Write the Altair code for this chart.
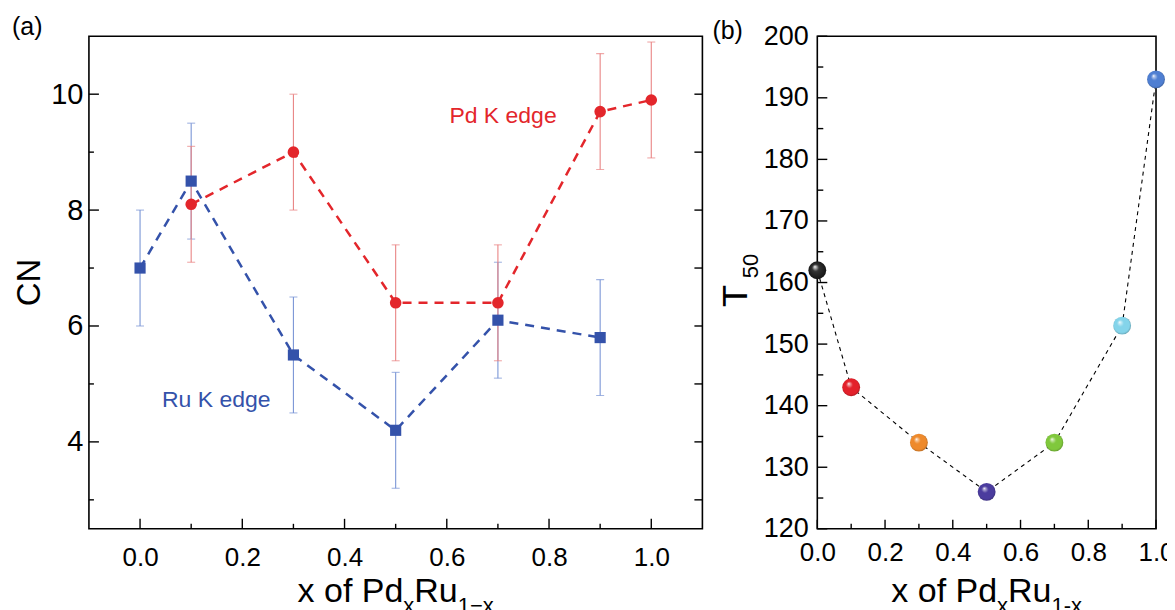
import altair as alt
import pandas as pd

# ---------------- data: panel (a) ----------------
PD_X = [0.1, 0.3, 0.5, 0.7, 0.9, 1.0]
PD_CN = [8.1, 9.0, 6.4, 6.4, 9.7, 9.9]
PD_ERR = [1.0, 1.0, 1.0, 1.0, 1.0, 1.0]
RU_X = [0.0, 0.1, 0.3, 0.5, 0.7, 0.9]
RU_CN = [7.0, 8.5, 5.5, 4.2, 6.1, 5.8]
RU_ERR = [1.0, 1.0, 1.0, 1.0, 1.0, 1.0]
ANNOT_TEXT = ["Pd K edge", "Ru K edge"]
ANNOT_X = [0.71, 0.149]
ANNOT_Y = [9.62, 4.72]

# ticks panel (a)
A_X_MAJOR = [0.0, 0.2, 0.4, 0.6, 0.8, 1.0]
A_X_MINOR = [0.1, 0.3, 0.5, 0.7, 0.9]
A_Y_MAJOR = [4, 6, 8, 10]
A_Y_MINOR = [3, 5, 7, 9]
A_Y_RIGHT = [3, 4, 5, 6, 7, 8, 9, 10]

# ---------------- data: panel (b) ----------------
T_X = [0.0, 0.1, 0.3, 0.5, 0.7, 0.9, 1.0]
T50 = [162, 143, 134, 126, 134, 153, 193]
T_COLORS = ["#1c1c1c", "#e3212b", "#ee8a2c", "#4b3c9e", "#80c83c", "#84d4ea", "#4f7fd2"]

B_X_MAJOR = [0.0, 0.2, 0.4, 0.6, 0.8, 1.0]
B_X_MINOR = [0.1, 0.3, 0.5, 0.7, 0.9]
B_Y_MAJOR = [120, 130, 140, 150, 160, 170, 180, 190, 200]
B_Y_MINOR = [125, 135, 145, 155, 165, 175, 185, 195]

# ---------------- style ----------------
FONT = "Liberation Sans"
RED = "#e3262b"
RED_ERR = "#e98585"
BLUE = "#3452aa"
BLUE_ERR = "#7b96d6"
WA, WB, H = 614, 339, 493

CHAR_W = {'x': 0.5, ' ': 0.278, 'o': 0.556, 'f': 0.278, 'P': 0.667, 'd': 0.556,
          'R': 0.722, 'u': 0.556, '1': 0.556, '\u2212': 0.584, '-': 0.333}


def text_width(s, size):
    return sum(CHAR_W.get(c, 0.556) for c in s) * size


def one_row():
    return pd.DataFrame({"k": [0]})


def title_layers(parts, center_x, base_y):
    total = sum(text_width(t, s) for t, s, _ in parts)
    left = center_x - total / 2
    layers = []
    for t, s, dy in parts:
        layers.append(
            alt.Chart(one_row()).mark_text(text=t, font=FONT, fontSize=s, align="left",
                                           baseline="alphabetic", color="black")
            .encode(x=alt.value(left), y=alt.value(base_y + dy))
        )
        left += text_width(t, s)
    return layers


def mix(c1, c2, t):
    a = [int(c1[i:i + 2], 16) for i in (1, 3, 5)]
    b = [int(c2[i:i + 2], 16) for i in (1, 3, 5)]
    return "#" + "".join(f"{round(x + (y - x) * t):02x}" for x, y in zip(a, b))


# ================= panel (a) =================
def xa(field="x"):
    return alt.X(f"{field}:Q", scale=alt.Scale(domain=[-0.1, 1.1], nice=False, zero=False),
                 axis=alt.Axis(values=A_X_MAJOR, format=".1f", title=None, ticks=False, domain=False,
                               grid=False, labelFontSize=26, labelPadding=16, labelFlush=False,
                               labelFont=FONT, labelColor="black"))


def ya(field="y"):
    return alt.Y(f"{field}:Q", scale=alt.Scale(domain=[2.5, 11], nice=False, zero=False),
                 axis=alt.Axis(values=A_Y_MAJOR, format="d", title=None, ticks=False, domain=False,
                               grid=False, labelFontSize=29, labelPadding=6, labelFlush=False,
                               labelFont=FONT, labelColor="black"))


pd_df = pd.DataFrame({"x": PD_X, "y": PD_CN, "e": PD_ERR})
pd_df["lo"] = pd_df["y"] - pd_df["e"]
pd_df["hi"] = pd_df["y"] + pd_df["e"]
ru_df = pd.DataFrame({"x": RU_X, "y": RU_CN, "e": RU_ERR})
ru_df["lo"] = ru_df["y"] - ru_df["e"]
ru_df["hi"] = ru_df["y"] + ru_df["e"]


def err_layers(df, color):
    base = alt.Chart(df)
    bar = base.mark_rule(color=color, strokeWidth=1.1).encode(x=xa(), y=ya("lo"), y2="hi:Q")
    cap_lo = base.mark_tick(color=color, orient="horizontal", size=8, thickness=1.1).encode(x=xa(), y=ya("lo"))
    cap_hi = base.mark_tick(color=color, orient="horizontal", size=8, thickness=1.1).encode(x=xa(), y=ya("hi"))
    return [bar, cap_lo, cap_hi]


a_layers = []
a_layers += err_layers(ru_df, BLUE_ERR)
a_layers += err_layers(pd_df, RED_ERR)
a_layers.append(alt.Chart(ru_df).mark_line(color=BLUE, strokeWidth=2.5, strokeDash=[9, 7]).encode(x=xa(), y=ya()))
a_layers.append(alt.Chart(pd_df).mark_line(color=RED, strokeWidth=2.5, strokeDash=[9, 7]).encode(x=xa(), y=ya()))
a_layers.append(alt.Chart(ru_df).mark_square(color=BLUE, size=125, opacity=1).encode(x=xa(), y=ya()))
a_layers.append(alt.Chart(pd_df).mark_point(shape="circle", filled=True, color=RED, size=135, opacity=1)
                .encode(x=xa(), y=ya()))

annot_df = pd.DataFrame({"x": ANNOT_X, "y": ANNOT_Y, "t": ANNOT_TEXT})
a_layers.append(alt.Chart(annot_df.iloc[[0]]).mark_text(font=FONT, fontSize=23, color=RED)
                .encode(x=xa(), y=ya(), text="t:N"))
a_layers.append(alt.Chart(annot_df.iloc[[1]]).mark_text(font=FONT, fontSize=23, color=BLUE)
                .encode(x=xa(), y=ya(), text="t:N"))

# inward ticks
a_layers.append(alt.Chart(pd.DataFrame({"x": A_X_MAJOR})).mark_rule(color="black", strokeWidth=1.4)
                .encode(x=xa(), y=alt.value(H), y2=alt.value(H - 10)))
a_layers.append(alt.Chart(pd.DataFrame({"x": A_X_MINOR})).mark_rule(color="black", strokeWidth=1.4)
                .encode(x=xa(), y=alt.value(H), y2=alt.value(H - 5)))
a_layers.append(alt.Chart(pd.DataFrame({"y": A_Y_MAJOR})).mark_rule(color="black", strokeWidth=1.4)
                .encode(y=ya(), x=alt.value(0), x2=alt.value(10)))
a_layers.append(alt.Chart(pd.DataFrame({"y": A_Y_MINOR})).mark_rule(color="black", strokeWidth=1.4)
                .encode(y=ya(), x=alt.value(0), x2=alt.value(5)))
a_layers.append(alt.Chart(pd.DataFrame({"y": A_Y_RIGHT})).mark_rule(color="black", strokeWidth=1.4)
                .encode(y=ya(), x=alt.value(WA), x2=alt.value(WA - 8)))

# labels / titles
a_layers.append(alt.Chart(one_row()).mark_text(text="(a)", font=FONT, fontSize=25, align="left",
                                               baseline="middle", color="black")
                .encode(x=alt.value(-77), y=alt.value(-9)))
a_layers.append(alt.Chart(one_row()).mark_text(text="CN", font=FONT, fontSize=33, angle=270, align="center",
                                               baseline="middle", color="black")
                .encode(x=alt.value(-59), y=alt.value(H / 2)))
a_layers += title_layers([("x of Pd", 34, 0), ("x", 22, 11), ("Ru", 34, 0), ("1\u2212x", 22, 11)],
                         WA / 2, 566)

chart_a = alt.layer(*a_layers).properties(width=WA, height=H)


# ================= panel (b) =================
def xb(field="x"):
    return alt.X(f"{field}:Q", scale=alt.Scale(domain=[0, 1], nice=False, zero=False),
                 axis=alt.Axis(values=B_X_MAJOR, format=".1f", title=None, ticks=False, domain=False,
                               grid=False, labelFontSize=26, labelPadding=11, labelFlush=False,
                               labelFont=FONT, labelColor="black"))


def yb(field="y"):
    return alt.Y(f"{field}:Q", scale=alt.Scale(domain=[120, 200], nice=False, zero=False),
                 axis=alt.Axis(values=B_Y_MAJOR, format="d", title=None, ticks=False, domain=False,
                               grid=False, labelFontSize=27, labelPadding=9, labelFlush=False,
                               labelOverlap=False, labelFont=FONT, labelColor="black"))


t_df = pd.DataFrame({"x": T_X, "y": T50, "c": T_COLORS})
b_layers = [alt.Chart(t_df).mark_line(color="black", strokeWidth=1.1, strokeDash=[4, 4]).encode(x=xb(), y=yb())]

for i, col in enumerate(T_COLORS):
    grad = {
        "gradient": "radial", "x1": 0.36, "y1": 0.3, "r1": 0.0, "x2": 0.5, "y2": 0.5, "r2": 0.55,
        "stops": [
            {"offset": 0.0, "color": "#ffffff"},
            {"offset": 0.12, "color": mix(col, "#ffffff", 0.55)},
            {"offset": 0.35, "color": col},
            {"offset": 0.8, "color": col},
            {"offset": 1.0, "color": mix(col, "#000000", 0.35)},
        ],
    }
    if i == 0:
        grad["stops"][1]["color"] = "#bbbbbb"
        grad["stops"][2]["color"] = "#333333"
    b_layers.append(alt.Chart(t_df.iloc[[i]]).mark_circle(fill=grad, size=320, opacity=1)
                    .encode(x=xb(), y=yb()))

b_layers.append(alt.Chart(pd.DataFrame({"x": B_X_MAJOR})).mark_rule(color="black", strokeWidth=1.4)
                .encode(x=xb(), y=alt.value(H), y2=alt.value(H - 9)))
b_layers.append(alt.Chart(pd.DataFrame({"x": B_X_MINOR})).mark_rule(color="black", strokeWidth=1.4)
                .encode(x=xb(), y=alt.value(H), y2=alt.value(H - 5)))
b_layers.append(alt.Chart(pd.DataFrame({"y": B_Y_MAJOR})).mark_rule(color="black", strokeWidth=1.4)
                .encode(y=yb(), x=alt.value(0), x2=alt.value(10)))
b_layers.append(alt.Chart(pd.DataFrame({"y": B_Y_MINOR})).mark_rule(color="black", strokeWidth=1.4)
                .encode(y=yb(), x=alt.value(0), x2=alt.value(6)))

b_layers.append(alt.Chart(one_row()).mark_text(text="(b)", font=FONT, fontSize=25, align="left",
                                               baseline="middle", color="black")
                .encode(x=alt.value(-105), y=alt.value(-5)))
b_layers.append(alt.Chart(one_row()).mark_text(text="T", font=FONT, fontSize=36, angle=270, align="center",
                                               baseline="middle", color="black")
                .encode(x=alt.value(-81), y=alt.value(260)))
b_layers.append(alt.Chart(one_row()).mark_text(text="50", font=FONT, fontSize=22, angle=270, align="center",
                                               baseline="middle", color="black")
                .encode(x=alt.value(-66), y=alt.value(230)))
b_layers += title_layers([("x of Pd", 34, 0), ("x", 22, 11), ("Ru", 34, 0), ("1-x", 22, 11)],
                         WB / 2, 566)

chart_b = alt.layer(*b_layers).properties(width=WB, height=H)

chart = (
    alt.hconcat(chart_a, chart_b, spacing=115, bounds="flush")
    .properties(padding={"left": 3, "top": 6, "right": -8, "bottom": 0})
    .configure_view(stroke="black", strokeWidth=1.6)
)

chart.save("out.html", embed_options={"renderer": "svg", "actions": False})
